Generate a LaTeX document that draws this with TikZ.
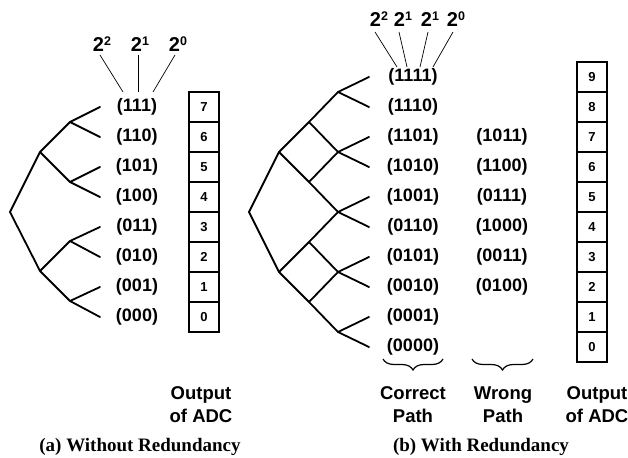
\documentclass[tikz,border=0pt]{standalone}
\usepackage{fontspec}
\setmainfont{Liberation Serif}
\setsansfont{Liberation Sans}
\usetikzlibrary{decorations.pathreplacing}
\newcommand{\wsup}[1]{\raisebox{6.5pt}{\fontsize{12.5}{12.5}\selectfont #1}}
\begin{document}
\begin{tikzpicture}[x=1pt,y=-1pt,
  branch/.style={line width=1.8pt, line cap=round, line join=round},
  pointer/.style={line width=0.7pt},
  code/.style={font=\sffamily\bfseries\fontsize{18}{18}\selectfont, inner sep=0pt},
  weight/.style={font=\sffamily\bfseries\fontsize{20}{20}\selectfont, inner sep=0pt},
  cell/.style={draw, line width=1.6pt, minimum width=30pt, minimum height=30pt, inner sep=0pt, font=\sffamily\bfseries\fontsize{13}{13}\selectfont},
  heading/.style={font=\sffamily\bfseries\fontsize{18.5}{23}\selectfont, align=center, inner sep=0pt},
  caption/.style={font=\rmfamily\bfseries\fontsize{19}{19}\selectfont, inner sep=0pt},
  bracebelow/.style={decorate, decoration={brace, mirror, amplitude=11pt}, line width=1.2pt}]
\useasboundingbox (0,0) rectangle (628,457);

% ---------- (a) without redundancy ----------
\coordinate (ar) at (10,212);
\coordinate (a1) at (40,152);
\coordinate (a0) at (40,271);
\foreach \i/\y in {3/122,2/182,1/241,0/301} \coordinate (b\i) at (70,\y);
\foreach \i in {0,...,7} {
  \coordinate (al\i) at (100,{317-30*\i});
}
\draw[branch] (a1) -- (ar) -- (a0);
\draw[branch] (b3) -- (a1) -- (b2);
\draw[branch] (b1) -- (a0) -- (b0);
\draw[branch] (al7) -- (b3) -- (al6);
\draw[branch] (al5) -- (b2) -- (al4);
\draw[branch] (al3) -- (b1) -- (al2);
\draw[branch] (al1) -- (b0) -- (al0);

\foreach \t [count=\k from 0] in {000,001,010,011,100,101,110,111} {
  \node[code] (ac\k) at (137,{317-30*\k}) {(\t)};
  \node[cell] (ab\k) at (204,{317-30*\k}) {\k};
}

\node[weight] (aw2) at (102,44) {2\wsup{2}};
\node[weight] (aw1) at (140,44) {2\wsup{1}};
\node[weight] (aw0) at (178,44) {2\wsup{0}};
\coordinate (ap2) at (123,92);
\coordinate (ap1) at (138,92);
\coordinate (ap0) at (153,92);
\draw[pointer] (100,55) -- (ap2);
\draw[pointer] (138,55) -- (ap1);
\draw[pointer] (175,55) -- (ap0);

\node[heading] (aout) at (201,405) {Output\\of ADC};
\node[caption] (acap) at (140,447) {(a) Without Redundancy};

% ---------- (b) with redundancy ----------
\coordinate (r) at (249,212);
\coordinate (c1) at (279,152);
\coordinate (c0) at (279,272);
\foreach \i/\y in {3/122,2/182,1/242,0/302} \coordinate (d\i) at (309,\y);
\foreach \i/\y in {4/92,3/152,2/212,1/272,0/332} \coordinate (e\i) at (338,\y);
\foreach \i in {0,...,9} {
  \coordinate (bl\i) at (369,{347-30*\i});
}
\draw[branch] (c1) -- (r) -- (c0);
\draw[branch] (d3) -- (c1) -- (d2);
\draw[branch] (d1) -- (c0) -- (d0);
\draw[branch] (e4) -- (d3) -- (e3);
\draw[branch] (e3) -- (d2) -- (e2);
\draw[branch] (e2) -- (d1) -- (e1);
\draw[branch] (e1) -- (d0) -- (e0);
\draw[branch] (bl9) -- (e4) -- (bl8);
\draw[branch] (bl7) -- (e3) -- (bl6);
\draw[branch] (bl5) -- (e2) -- (bl4);
\draw[branch] (bl3) -- (e1) -- (bl2);
\draw[branch] (bl1) -- (e0) -- (bl0);

\foreach \t [count=\k from 0] in {0000,0001,0010,0101,0110,1001,1010,1101,1110,1111} {
  \node[code] (bc\k) at (413,{347-30*\k}) {(\t)};
}
\foreach \k in {0,...,9} {
  \node[cell] (bb\k) at (592,{347-30*\k}) {\k};
}
\foreach \t [count=\k from 2] in {0100,0011,1000,0111,1100,1011} {
  \node[code] (wc\k) at (502,{347-30*\k}) {(\t)};
}

\node[weight] (bw3) at (379,19) {2\wsup{2}};
\node[weight] (bw2) at (403,19) {2\wsup{1}};
\node[weight] (bw1) at (430,19) {2\wsup{1}};
\node[weight] (bw0) at (456,19) {2\wsup{0}};
\coordinate (bp3) at (397,67);
\coordinate (bp2) at (407,67);
\coordinate (bp1) at (420,67);
\coordinate (bp0) at (433,67);
\draw[pointer] (375,32) -- (bp3);
\draw[pointer] (399,32) -- (bp2);
\draw[pointer] (428,32) -- (bp1);
\draw[pointer] (453,32) -- (bp0);

\coordinate (cbl) at (383,359);
\coordinate (cbr) at (443,359);
\coordinate (wbl) at (472,359);
\coordinate (wbr) at (533,359);
\draw[bracebelow] (cbl) -- (cbr);
\draw[bracebelow] (wbl) -- (wbr);

\node[heading] (corr) at (413,405) {Correct\\Path};
\node[heading] (wrong) at (503,405) {Wrong\\Path};
\node[heading] (bout) at (597,405) {Output\\of ADC};
\node[caption] (bcap) at (481,447) {(b) With Redundancy};
\end{tikzpicture}
\end{document}
